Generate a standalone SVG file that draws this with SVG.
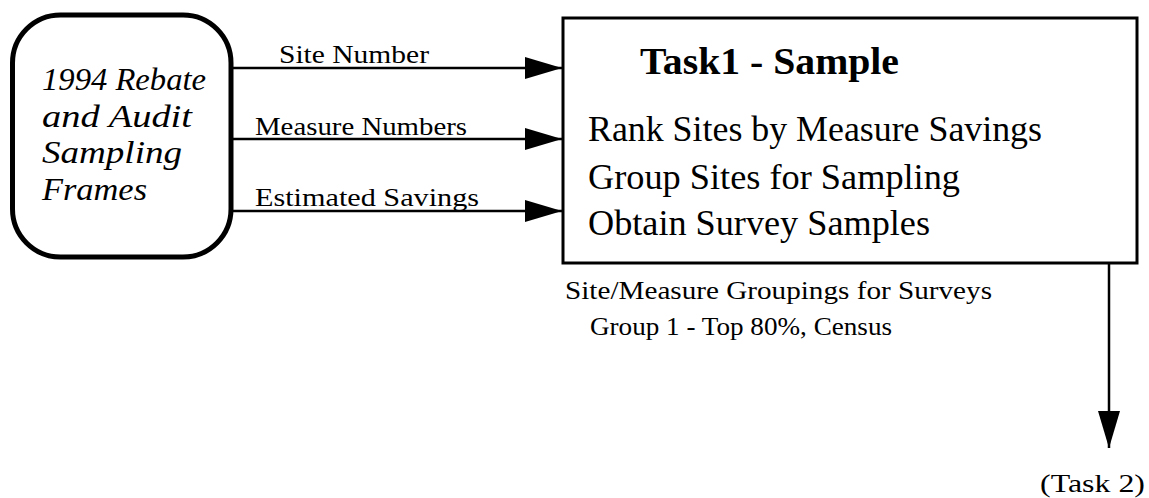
<svg xmlns="http://www.w3.org/2000/svg" width="1149" height="498" viewBox="0 0 1149 498">
  <style>
    .frame { fill: #fff; stroke: #000; stroke-width: 5; }
    .task { fill: #fff; stroke: #000; stroke-width: 3; }
    .flow { fill: none; stroke: #000; stroke-width: 2.5; marker-end: url(#head); }
    text { font-family: "Liberation Serif", "Times New Roman", serif; fill: #000; }
    .src { font-size: 32px; font-style: italic; }
    .title { font-size: 38px; font-weight: bold; }
    .step { font-size: 35px; }
    .label { font-size: 26px; }
    .note { font-size: 26px; }
  </style>
  <defs>
    <marker id="head" markerUnits="userSpaceOnUse" viewBox="0 0 37 22" refX="37" refY="11" markerWidth="37" markerHeight="22" orient="auto">
      <path d="M0,0 L37,11 L0,22 Z" fill="#000"/>
    </marker>
  </defs>
  <rect width="1149" height="498" fill="#fff"/>

  <!-- data flows -->
  <g id="connectors">
    <line class="flow" x1="231" y1="68" x2="562" y2="68"/>
    <line class="flow" x1="231" y1="139" x2="562" y2="139"/>
    <line class="flow" x1="231" y1="211" x2="562" y2="211"/>
    <line class="flow" x1="1109" y1="263" x2="1109" y2="448"/>
    <text class="label" x="279" y="63" textLength="150" lengthAdjust="spacingAndGlyphs">Site Number</text>
    <text class="label" x="255" y="135" textLength="212" lengthAdjust="spacingAndGlyphs">Measure Numbers</text>
    <text class="label" x="255" y="206" textLength="224" lengthAdjust="spacingAndGlyphs">Estimated Savings</text>
    <text class="note" x="565" y="299" textLength="427" lengthAdjust="spacingAndGlyphs">Site/Measure Groupings for Surveys</text>
    <text class="note" x="590" y="335" textLength="302" lengthAdjust="spacingAndGlyphs">Group 1 - Top 80%, Census</text>
  </g>

  <!-- source: sampling frames -->
  <g id="sampling-frames">
    <rect class="frame" x="12.5" y="15" width="218.5" height="242" rx="48" ry="48"/>
    <text class="src" x="42" y="90" textLength="164" lengthAdjust="spacingAndGlyphs">1994 Rebate</text>
    <text class="src" x="42" y="127" textLength="150" lengthAdjust="spacingAndGlyphs">and Audit</text>
    <text class="src" x="42" y="163" textLength="140" lengthAdjust="spacingAndGlyphs">Sampling</text>
    <text class="src" x="42" y="200" textLength="105" lengthAdjust="spacingAndGlyphs">Frames</text>
  </g>

  <!-- process: task 1 -->
  <g id="task1">
    <rect class="task" x="563" y="18" width="574" height="245"/>
    <text class="title" x="640" y="74" textLength="259" lengthAdjust="spacingAndGlyphs">Task1 - Sample</text>
    <text class="step" x="588" y="141" textLength="454" lengthAdjust="spacingAndGlyphs">Rank Sites by Measure Savings</text>
    <text class="step" x="588" y="189" textLength="372" lengthAdjust="spacingAndGlyphs">Group Sites for Sampling</text>
    <text class="step" x="588" y="235" textLength="342" lengthAdjust="spacingAndGlyphs">Obtain Survey Samples</text>
  </g>

  <!-- next task reference -->
  <g id="task2">
    <text class="note" x="1040" y="492" textLength="105" lengthAdjust="spacingAndGlyphs">(Task 2)</text>
  </g>
</svg>
